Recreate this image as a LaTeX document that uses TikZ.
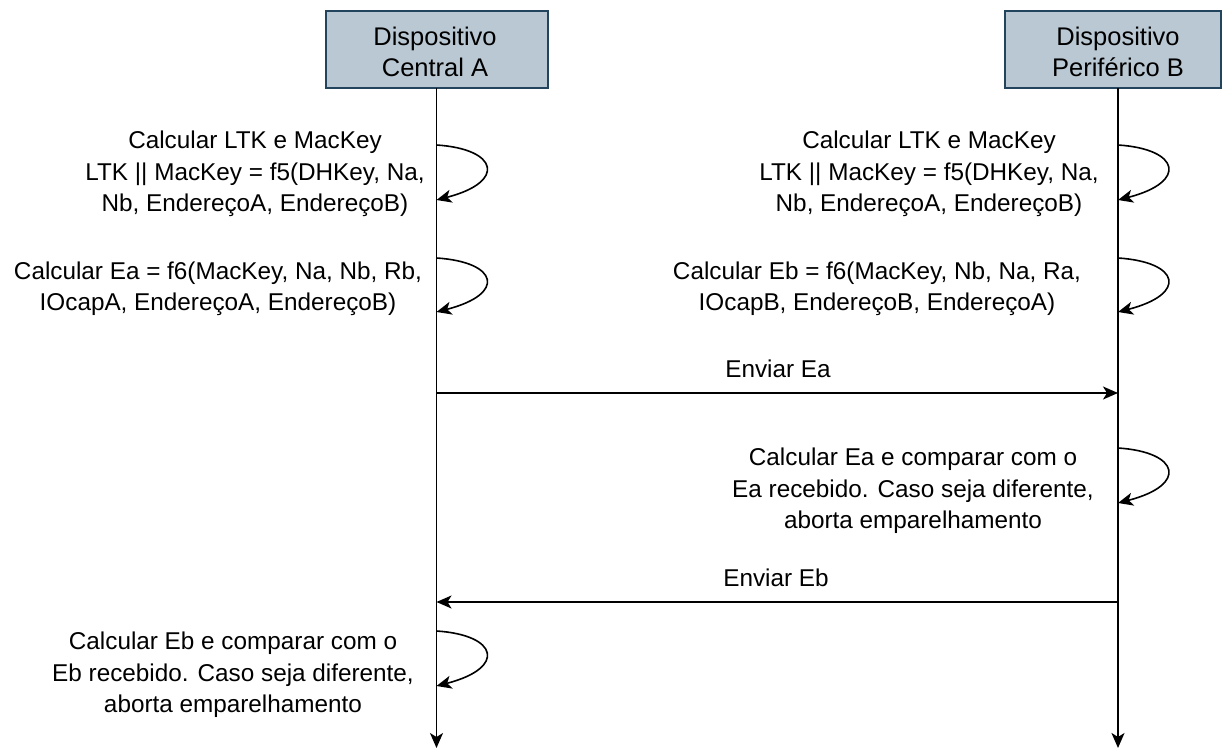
\documentclass[tikz,border=0pt]{standalone}
\usepackage{fontspec}
\setmainfont{Liberation Sans}
\usetikzlibrary{arrows.meta}
\definecolor{hdrfill}{HTML}{BAC8D3}
\definecolor{hdrdraw}{HTML}{23445D}
\begin{document}
\begin{tikzpicture}[x=1pt,y=-1pt,
  hdrbox/.style={draw=hdrdraw, fill=hdrfill, line width=1.5pt, inner sep=0pt},
  hdrtext/.style={align=center, inner sep=0pt, font=\fontsize{25.5}{31.5}\selectfont},
  lbl/.style={align=center, inner sep=0pt, font=\fontsize{24.3}{31.5}\selectfont},
  tip/.style={-{Stealth[length=15pt,width=13pt,inset=4pt]}},
  lifeline/.style={line width=1.6pt, tip},
  msg/.style={line width=1.6pt, tip},
  selfloop/.style={line width=1.6pt, tip}]
\useasboundingbox (0,0) rectangle (1224,749);

% participants
\node[hdrbox, minimum width=222pt, minimum height=77pt] (boxA) at (437,49.5) {};
\node[hdrtext] (titleA) at (435,52) {Dispositivo\\Central A};
\node[hdrbox, minimum width=216pt, minimum height=77pt] (boxB) at (1113,49.5) {};
\node[hdrtext] (titleB) at (1118,52) {Dispositivo\\Periférico B};

% lifelines
\coordinate (topA) at (436.5,88);
\coordinate (endA) at (436.5,748);
\coordinate (topB) at (1118,88);
\coordinate (endB) at (1118,748);
\draw[lifeline] (topA) -- (endA);
\draw[lifeline] (topB) -- (endB);

% self-loops on the lifelines
\coordinate (a1s) at (436.5,145); \coordinate (a1e) at (436.5,200);
\coordinate (a2s) at (436.5,258); \coordinate (a2e) at (436.5,312);
\coordinate (a3s) at (436.5,631); \coordinate (a3e) at (436.5,686);
\coordinate (b1s) at (1118,145);  \coordinate (b1e) at (1118,200);
\coordinate (b2s) at (1118,258);  \coordinate (b2e) at (1118,312);
\coordinate (b3s) at (1118,448);  \coordinate (b3e) at (1118,503);
\foreach \s/\e in {a1s/a1e,a2s/a2e,a3s/a3e,b1s/b1e,b2s/b2e,b3s/b3e}
  \draw[selfloop] (\s) .. controls +(62,4) and +(70,-18) .. (\e);

% step descriptions
\node[lbl] (stepA1) at (255,174) {Calcular LTK e MacKey\\LTK || MacKey = f5(DHKey, Na,\\Nb, EndereçoA, EndereçoB)};
\node[lbl] (stepB1) at (929,174) {Calcular LTK e MacKey\\LTK || MacKey = f5(DHKey, Na,\\Nb, EndereçoA, EndereçoB)};
\node[lbl] (stepA2) at (218,289) {Calcular Ea = f6(MacKey, Na, Nb, Rb,\\IOcapA, EndereçoA, EndereçoB)};
\node[lbl] (stepB2) at (877,289) {Calcular Eb = f6(MacKey, Nb, Na, Ra,\\IOcapB, EndereçoB, EndereçoA)};
\node[lbl] (stepB3) at (913,491) {Calcular Ea e comparar com o\\Ea recebido. Caso seja diferente,\\aborta emparelhamento};
\node[lbl] (stepA3) at (233,675) {Calcular Eb e comparar com o\\Eb recebido. Caso seja diferente,\\aborta emparelhamento};

% messages
\coordinate (eaFrom) at (436.5,393);
\coordinate (eaTo) at (1118,393);
\draw[msg] (eaFrom) -- (eaTo);
\node[lbl] (lblEa) at (778,369) {Enviar Ea};
\coordinate (ebFrom) at (1118,602);
\coordinate (ebTo) at (436.5,602);
\draw[msg] (ebFrom) -- (ebTo);
\node[lbl] (lblEb) at (776,578) {Enviar Eb};
\end{tikzpicture}
\end{document}
